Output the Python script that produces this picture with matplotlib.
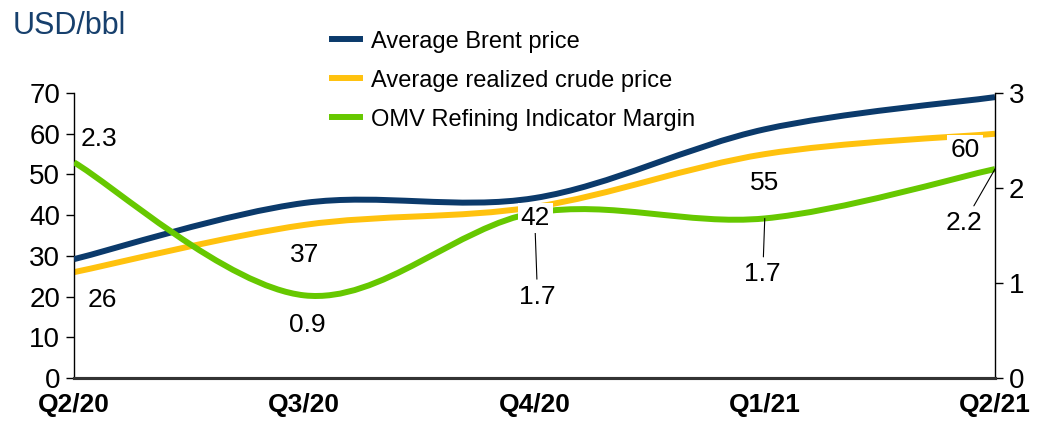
import matplotlib
matplotlib.use("Agg")
import matplotlib.pyplot as plt
from matplotlib.path import Path
from matplotlib.patches import PathPatch
from matplotlib.lines import Line2D

plt.rcParams['font.family'] = ['Liberation Sans', 'DejaVu Sans']

quarters = ["Q2/20", "Q3/20", "Q4/20", "Q1/21", "Q2/21"]
brent = [29.2, 43.0, 44.2, 61.1, 69.0]
realized = [26, 37.6, 42, 55, 60]
realized_labels = ["26", "37", "42", "55", "60"]
margin = [2.27, 0.87, 1.74, 1.68, 2.2]
margin_labels = ["2.3", "0.9", "1.7", "1.7", "2.2"]

navy = "#0B3A6B"
yellow = "#FFC20E"
green = "#66C800"


def smooth_path(xs, ys):
    # excel style smoothing: catmull-rom turned into bezier segments
    pts = list(zip(xs, ys))
    verts = [pts[0]]
    codes = [Path.MOVETO]
    n = len(pts)
    for i in range(n - 1):
        p0 = pts[max(i - 1, 0)]
        p1 = pts[i]
        p2 = pts[i + 1]
        p3 = pts[min(i + 2, n - 1)]
        c1 = (p1[0] + (p2[0] - p0[0]) / 6, p1[1] + (p2[1] - p0[1]) / 6)
        c2 = (p2[0] - (p3[0] - p1[0]) / 6, p2[1] - (p3[1] - p1[1]) / 6)
        verts += [c1, c2, p2]
        codes += [Path.CURVE4] * 3
    return Path(verts, codes)


fig = plt.figure(figsize=(10.37, 4.23), dpi=100)
ax = fig.add_axes([0.0714, 0.1064, 0.8881, 0.6736])
ax2 = ax.twinx()

x = list(range(len(quarters)))
ax.add_patch(PathPatch(smooth_path(x, brent), fill=False, color=navy, lw=4.3, capstyle='butt', zorder=3))
ax.add_patch(PathPatch(smooth_path(x, realized), fill=False, color=yellow, lw=4.3, capstyle='butt', zorder=2))
ax2.add_patch(PathPatch(smooth_path(x, margin), fill=False, color=green, lw=4.3, capstyle='butt', zorder=2))

ax.set_xlim(0, 4)
ax.set_ylim(0, 70)
ax2.set_ylim(0, 3)
ax.set_xticks(x)
ax.set_xticklabels(quarters, fontsize=19, fontweight='bold')
ax.set_yticks(range(0, 71, 10))
ax2.set_yticks([0, 1, 2, 3])
ax.tick_params(axis='x', length=0, pad=11)
ax.tick_params(axis='y', labelsize=20, length=6, width=1, direction='out', pad=4)
ax2.tick_params(axis='y', labelsize=20, length=6, width=1, direction='out', pad=4)

for a in (ax, ax2):
    a.spines['top'].set_visible(False)
    a.spines['bottom'].set_linewidth(2.2)
    a.spines['bottom'].set_color('#333333')
    a.spines['left'].set_linewidth(1)
    a.spines['right'].set_linewidth(1)
ax.spines['right'].set_visible(False)
ax2.spines['left'].set_visible(False)

# data labels, offsets in pixels
real_off = [(28, -28), (0, -30), (1, -11), (0, -29), (-30, -16)]
real_box = [False, False, True, False, True]
for i, (v, t) in enumerate(zip(realized, realized_labels)):
    kw = {}
    if real_box[i]:
        kw['bbox'] = dict(boxstyle='square,pad=0.12', fc='white', ec='none')
    ax2.annotate(t, xy=(i, v), xycoords=ax.transData, xytext=real_off[i],
                 textcoords='offset pixels', ha='center', va='center',
                 fontsize=19, zorder=6, **kw)

marg_off = [(25, 23), (3, -30), (3, -84), (-2, -56), (-31, -54)]
marg_lead = [False, False, True, True, True]
for i, (v, t) in enumerate(zip(margin, margin_labels)):
    kw = {}
    if marg_lead[i]:
        kw['arrowprops'] = dict(arrowstyle='-', color='black', lw=0.8, shrinkA=2, shrinkB=0)
    ax2.annotate(t, xy=(i, v), xytext=marg_off[i], textcoords='offset pixels',
                 ha='center', va='center', fontsize=19, zorder=5, **kw)

fig.text(0.0125, 0.975, "USD/bbl", color="#17406D", fontsize=22, ha='left', va='top')

handles = [Line2D([], [], color=navy, lw=4.3),
           Line2D([], [], color=yellow, lw=4.3),
           Line2D([], [], color=green, lw=4.3)]
names = ["Average Brent price", "Average realized crude price", "OMV Refining Indicator Margin"]
fig.legend(handles, names, loc='upper left', bbox_to_anchor=(0.311, 0.950), frameon=False,
           fontsize=17, handlelength=1.2, handletextpad=0.45, labelspacing=0.72, borderaxespad=0)

fig.savefig("out.png", dpi=100)
